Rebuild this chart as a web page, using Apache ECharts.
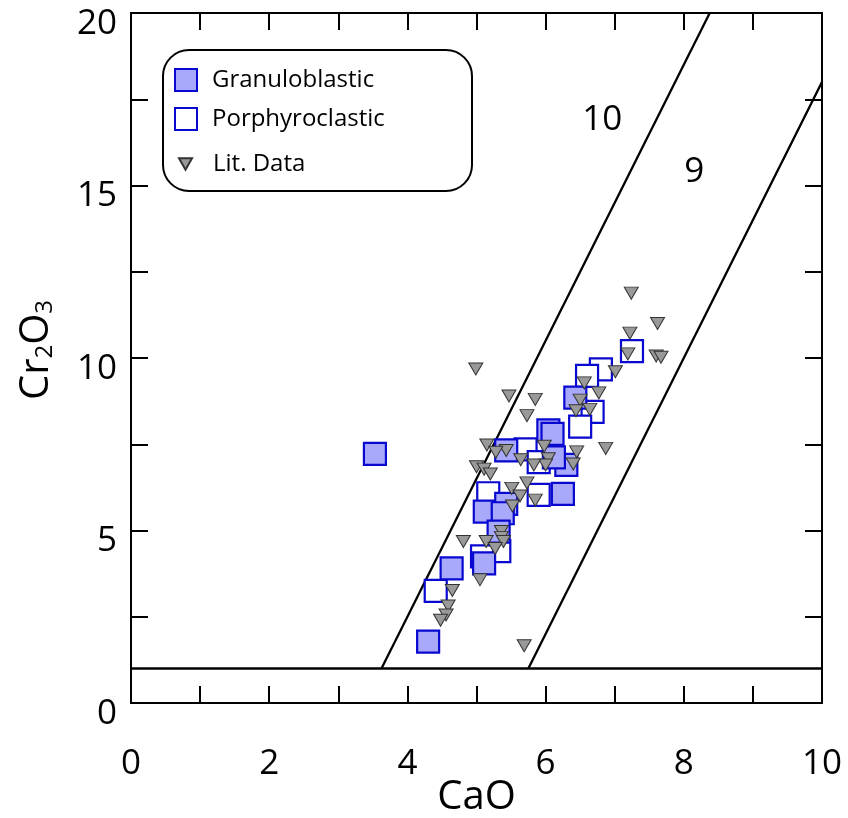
<!DOCTYPE html>
<html>
<head>
<meta charset="utf-8">
<title>Garnet Cr2O3 vs CaO</title>
<script src="https://cdn.jsdelivr.net/npm/echarts@6/dist/echarts.min.js"></script>
<style>
  html, body { margin: 0; padding: 0; background: #fff; }
  #chart { width: 848px; height: 818px; }
</style>
</head>
<body>
<div id="chart"></div>
<script>
// Garnet compositions (wt%): [CaO, Cr2O3]
const granuloblastic = [
  [3.53, 7.22], [6.43, 8.85], [6.04, 7.9], [6.1, 7.8], [6.3, 6.9],
  [6.12, 7.12], [5.43, 7.32], [6.25, 6.06], [5.12, 5.55], [5.43, 5.77],
  [5.38, 5.5], [5.32, 4.97], [5.11, 4.05], [4.64, 3.9], [4.3, 1.78]
];
const porphyroclastic = [
  [7.25, 10.2], [6.8, 9.67], [6.6, 9.48], [6.68, 8.44], [6.5, 8.01],
  [5.71, 7.35], [5.9, 6.98], [5.17, 6.08], [5.9, 6.03], [5.33, 4.4],
  [5.08, 4.25], [4.41, 3.25]
];
const litData = [
  [4.99, 9.68], [5.47, 8.9], [5.85, 8.8], [5.73, 8.33], [7.24, 11.88],
  [7.62, 11.0], [7.22, 10.72], [7.19, 10.12], [7.6, 10.06], [7.67, 10.02],
  [7.01, 9.6], [6.56, 9.28], [6.77, 8.99], [6.5, 8.78], [6.64, 8.51],
  [6.44, 8.47], [6.87, 7.38], [6.45, 7.28], [6.4, 6.93], [5.98, 7.44],
  [6.04, 7.08], [6.0, 6.9], [5.83, 6.9], [5.64, 7.05], [5.43, 7.32],
  [5.15, 7.48], [5.28, 7.27], [5.0, 6.85], [5.11, 6.78], [5.2, 6.64],
  [5.51, 6.22], [5.73, 6.38], [5.63, 6.0], [5.85, 5.88], [5.52, 5.71],
  [5.36, 4.97], [5.36, 4.8], [5.39, 4.68], [4.81, 4.68], [5.14, 4.68],
  [5.27, 4.48], [5.05, 3.57], [4.65, 3.26], [4.59, 2.81], [4.56, 2.55],
  [4.48, 2.4], [5.69, 1.66]
];

// Field boundaries
const g10Boundary = [[3.625, 1], [8.375, 20]];
const g9Boundary = [[5.75, 1], [10, 18]];
const cr2o3Floor = [[0, 1], [10, 1]];

// Field names placed at [CaO, Cr2O3]
const fieldLabels = [
  { name: '10', value: [6.82, 16.9] },
  { name: '9', value: [8.15, 15.4] }
];

const xRange = [0, 10];
const yRange = [0, 20];
const xLabelValues = [0, 2, 4, 6, 8, 10];
const yLabelValues = [0, 5, 10, 15, 20];

const FONT = '"Open Sans", "Noto Sans", sans-serif';
const ink = '#000';
const squareEdge = '#0808d0';
const downTriangle = 'path://M0,0 L12,0 L6,10.4 Z';

const tickStyle = { show: true, inside: true, length: 17, lineStyle: { color: ink, width: 2 } };
const axisLine = { show: true, onZero: false, lineStyle: { color: ink, width: 2 } };

const boundaryLine = (data) => ({
  type: 'line',
  data: data,
  symbol: 'none',
  silent: true,
  lineStyle: { color: ink, width: 2.3 },
  z: 1
});

const chart = echarts.init(document.getElementById('chart'), null, { renderer: 'canvas' });

chart.setOption({
  animation: false,
  backgroundColor: '#fff',
  grid: { left: 131, right: 26, top: 13, bottom: 115, containLabel: false, outerBoundsMode: 'none' },
  graphic: [{
    type: 'rect',
    shape: { x: 163, y: 50, width: 309, height: 141, r: 26 },
    style: { fill: '#fff', stroke: ink, lineWidth: 2 },
    z: 1
  }],
  legend: [{
    data: ['Granuloblastic', 'Porphyroclastic'],
    orient: 'vertical',
    left: 174, top: 68,
    padding: 0,
    itemWidth: 22, itemHeight: 22, itemGap: 15,
    textStyle: { fontFamily: FONT, fontSize: 24, color: ink, padding: [0, 0, 0, 10] }
  }, {
    data: [{ name: 'Lit. Data', icon: downTriangle }],
    orient: 'vertical',
    left: 178, top: 152,
    padding: 0,
    itemWidth: 13, itemHeight: 12,
    textStyle: { fontFamily: FONT, fontSize: 24, color: ink, padding: [0, 0, 0, 16] }
  }],
  xAxis: [{
    type: 'value', min: xRange[0], max: xRange[1], interval: 1,
    position: 'bottom',
    name: 'CaO', nameLocation: 'middle', nameGap: 75, nameMoveOverlap: false,
    nameTextStyle: { fontFamily: FONT, fontSize: 40, color: ink },
    axisLine: axisLine, axisTick: tickStyle, splitLine: { show: false },
    axisLabel: {
      margin: 44, fontFamily: FONT, fontSize: 35, color: ink,
      formatter: v => (xLabelValues.indexOf(v) >= 0 ? String(v) : '')
    }
  }, {
    type: 'value', min: xRange[0], max: xRange[1], interval: 1,
    position: 'top',
    axisLine: axisLine, axisTick: tickStyle, splitLine: { show: false },
    axisLabel: { show: false }
  }],
  yAxis: [{
    type: 'value', min: yRange[0], max: yRange[1], interval: 2.5,
    position: 'left',
    name: '{m|Cr}{s|2}{m|O}{s|3}', nameLocation: 'middle', nameGap: 74, nameRotate: 90,
    nameMoveOverlap: false,
    nameTextStyle: {
      padding: [0, 0, 0, 16],
      rich: {
        m: { fontFamily: FONT, fontSize: 40, lineHeight: 40, color: ink, verticalAlign: 'top' },
        s: { fontFamily: FONT, fontSize: 24, lineHeight: 24, color: ink, verticalAlign: 'bottom', padding: [22, 0, 0, 0] }
      }
    },
    axisLine: axisLine, axisTick: tickStyle, splitLine: { show: false },
    axisLabel: {
      margin: 14, fontFamily: FONT, fontSize: 35, color: ink,
      verticalAlign: 'top', lineHeight: 22,
      formatter: v => (yLabelValues.indexOf(v) >= 0 ? String(v) : '')
    }
  }, {
    type: 'value', min: yRange[0], max: yRange[1], interval: 2.5,
    position: 'right',
    axisLine: axisLine, axisTick: tickStyle, splitLine: { show: false },
    axisLabel: { show: false }
  }],
  series: [
    boundaryLine(cr2o3Floor),
    boundaryLine(g10Boundary),
    boundaryLine(g9Boundary),
    {
      type: 'scatter',
      data: fieldLabels,
      symbolSize: 1,
      silent: true,
      itemStyle: { opacity: 1, color: 'rgba(0,0,0,0)' },
      label: {
        show: true, position: 'inside', formatter: '{b}',
        fontFamily: FONT, fontSize: 35, color: ink, opacity: 1
      }
    },
    {
      name: 'Porphyroclastic',
      type: 'scatter',
      data: porphyroclastic,
      symbol: 'rect', symbolSize: 22,
      itemStyle: { color: '#fff', borderColor: squareEdge, borderWidth: 2.2, opacity: 1 },
      z: 3
    },
    {
      name: 'Granuloblastic',
      type: 'scatter',
      data: granuloblastic,
      symbol: 'rect', symbolSize: 22,
      itemStyle: { color: '#a9a9fb', borderColor: squareEdge, borderWidth: 2.2, opacity: 1 },
      z: 3
    },
    {
      name: 'Lit. Data',
      type: 'scatter',
      data: litData,
      symbol: downTriangle, symbolSize: [14, 12],
      itemStyle: { color: '#999', borderColor: '#333', borderWidth: 1, opacity: 1 },
      z: 4
    }
  ]
});
</script>
</body>
</html>
